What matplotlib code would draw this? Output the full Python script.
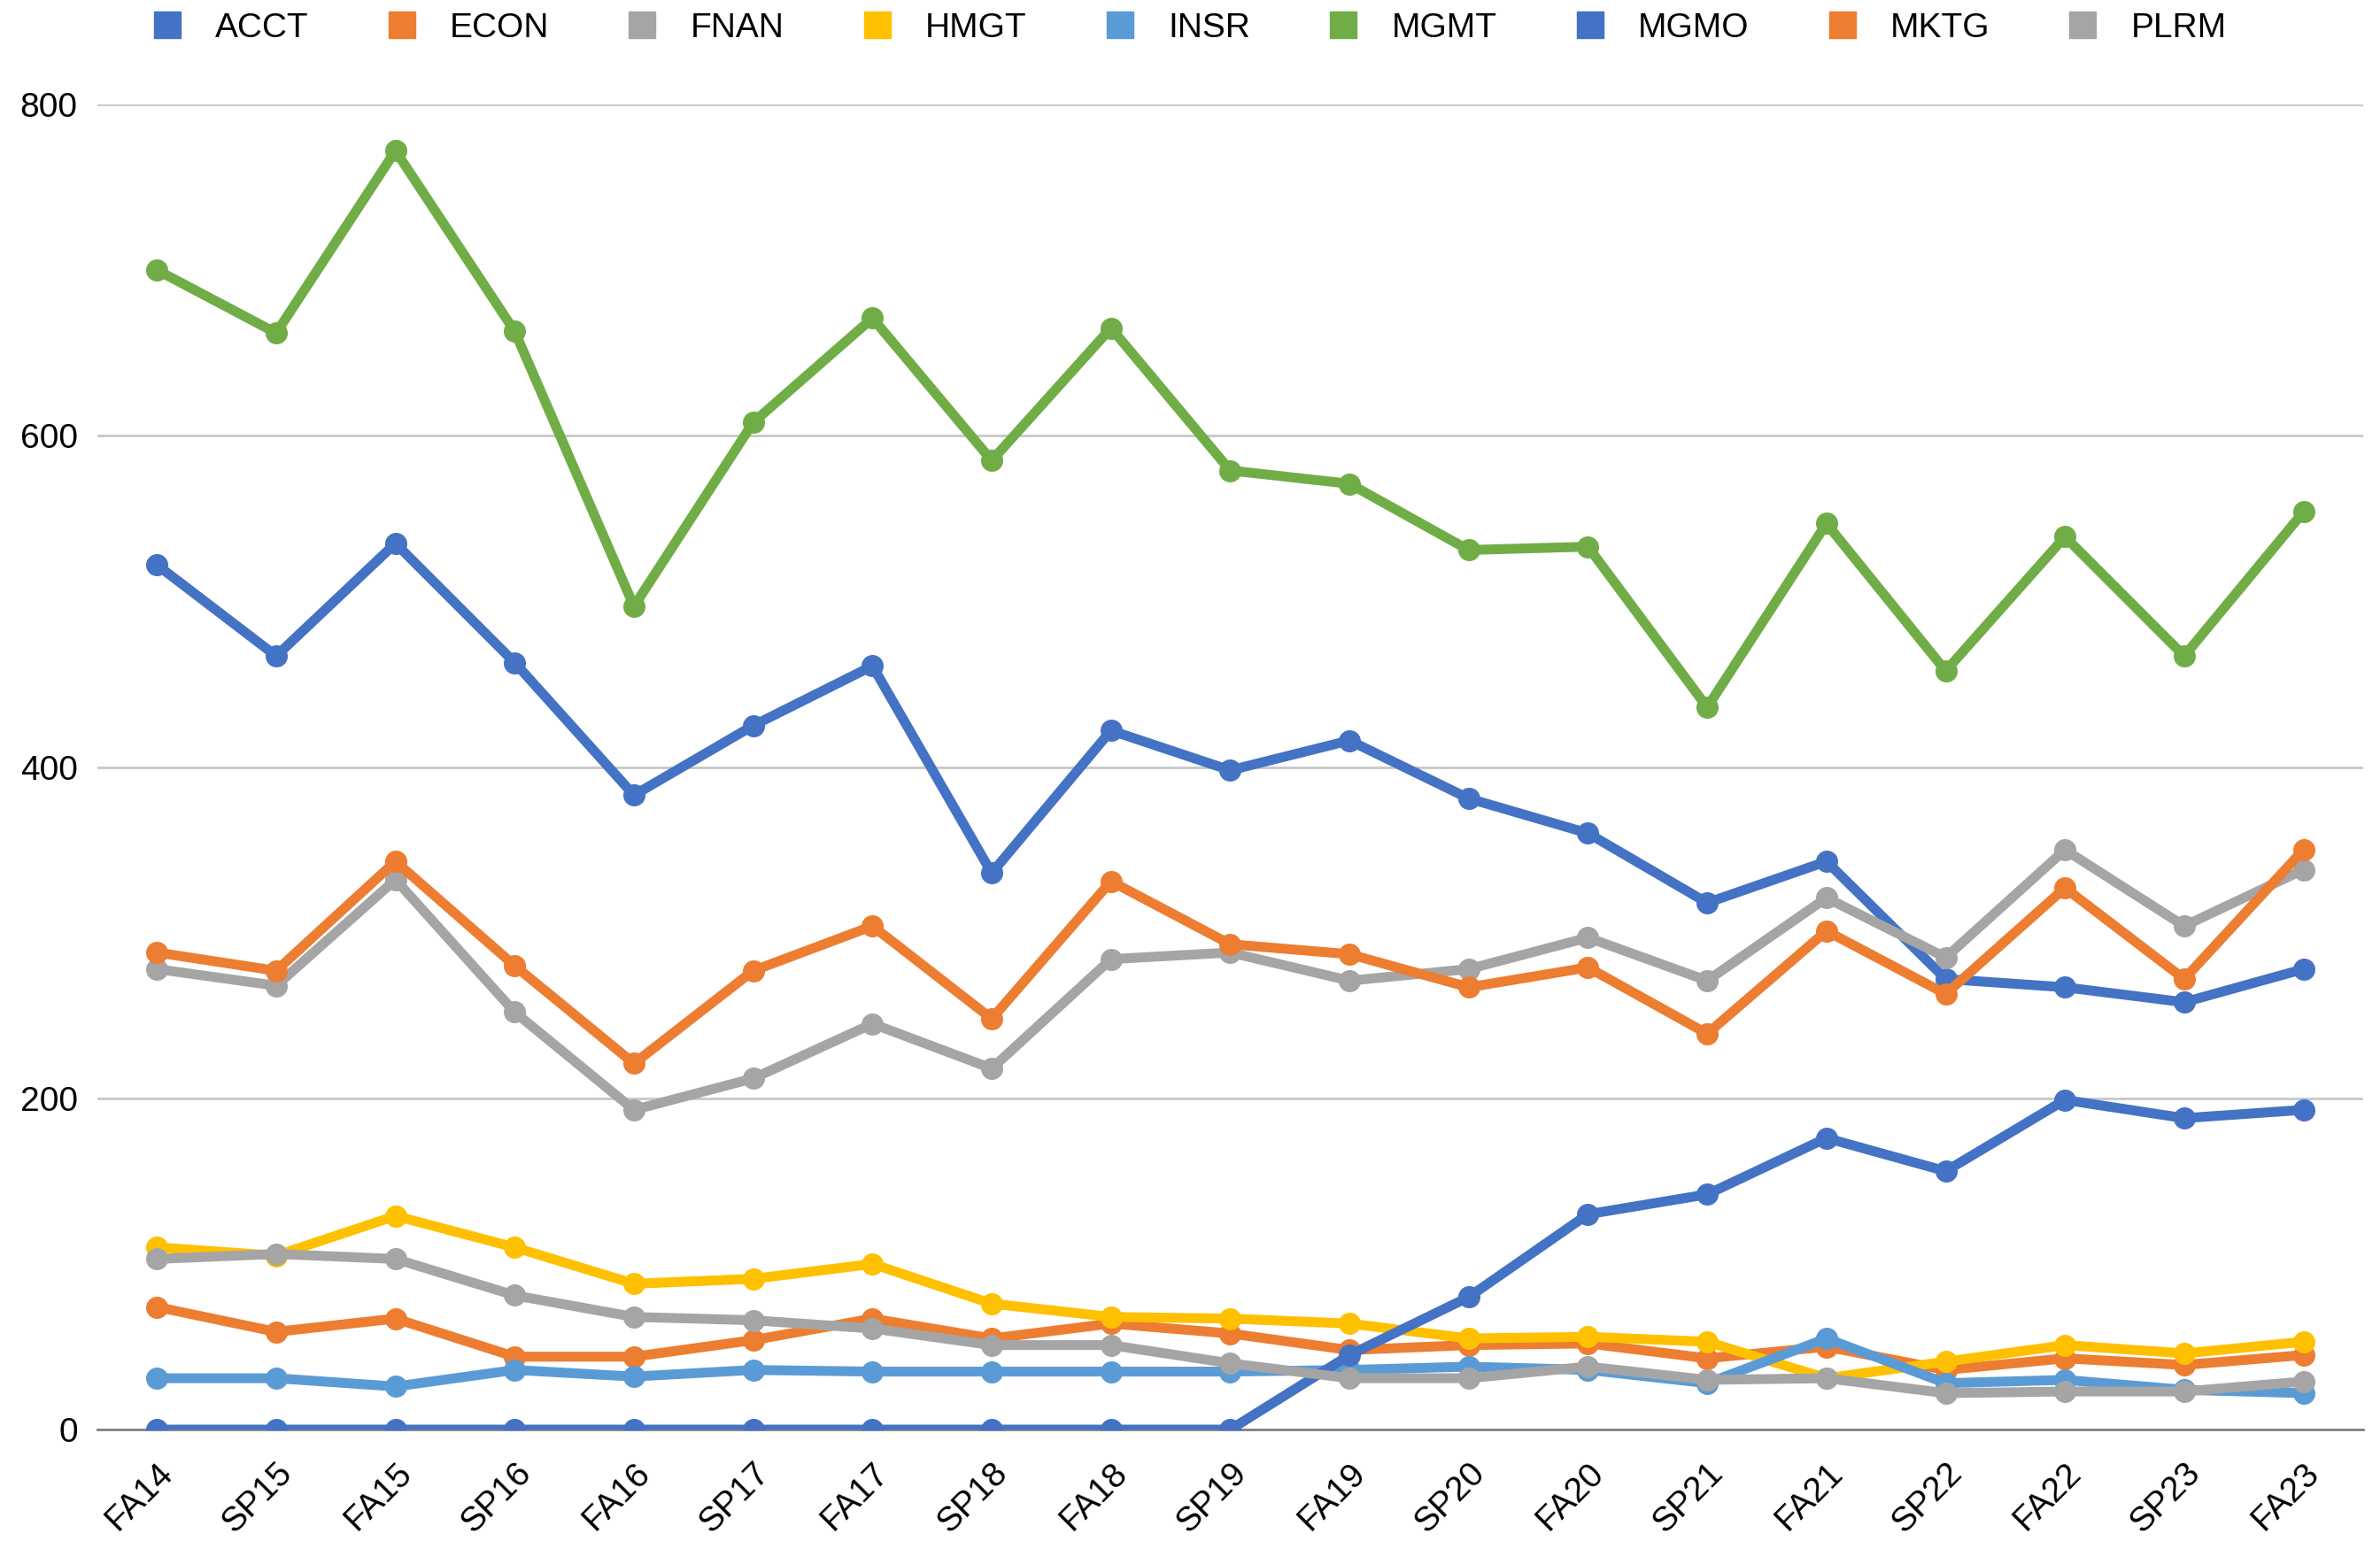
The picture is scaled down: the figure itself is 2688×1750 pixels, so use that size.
import matplotlib.pyplot as plt
from matplotlib.lines import Line2D

plt.rcParams['font.family'] = ['Liberation Sans', 'DejaVu Sans']

terms = ['FA14', 'SP15', 'FA15', 'SP16', 'FA16', 'SP17', 'FA17', 'SP18', 'FA18', 'SP19',
         'FA19', 'SP20', 'FA20', 'SP21', 'FA21', 'SP22', 'FA22', 'SP23', 'FA23']

acct = [522, 467, 535, 463, 383, 425, 461, 336, 422, 398, 416, 381, 360, 318, 343, 272, 267, 258, 278]
econ = [74, 59, 67, 44, 44, 54, 67, 55, 64, 58, 48, 51, 52, 43, 50, 36, 43, 39, 45]
fnan = [278, 268, 332, 252, 193, 212, 245, 218, 284, 288, 271, 278, 297, 271, 321, 285, 350, 304, 338]
hmgt = [110, 105, 129, 110, 88, 91, 100, 76, 68, 67, 64, 55, 56, 53, 31, 41, 51, 46, 53]
insr = [31, 31, 26, 36, 32, 36, 35, 35, 35, 35, 36, 38, 36, 28, 55, 28, 30, 24, 22]
mgmt = [700, 662, 772, 663, 497, 608, 671, 585, 665, 579, 571, 531, 533, 436, 547, 458, 539, 467, 554]
mgmo = [0, 0, 0, 0, 0, 0, 0, 0, 0, 0, 45, 80, 130, 142, 176, 156, 199, 188, 193]
mktg = [288, 277, 343, 280, 221, 277, 304, 248, 331, 293, 287, 267, 279, 239, 301, 263, 327, 272, 350]
plrm = [103, 106, 103, 81, 68, 66, 61, 51, 51, 40, 31, 31, 38, 30, 31, 22, 23, 23, 29]

names = ['ACCT', 'ECON', 'FNAN', 'HMGT', 'INSR', 'MGMT', 'MGMO', 'MKTG', 'PLRM']
series = [acct, econ, fnan, hmgt, insr, mgmt, mgmo, mktg, plrm]
colors = ['#4472C4', '#ED7D31', '#A5A5A5', '#FFC000', '#5B9BD5', '#70AD47', '#4472C4', '#ED7D31', '#A5A5A5']

fig = plt.figure(figsize=(26.88, 17.5), dpi=100)
ax = fig.add_axes([0.0409, 0.0771, 0.9520, 0.8555])

x = list(range(len(terms)))
for vals, c in zip(series, colors):
    ax.plot(x, vals, color=c, linewidth=8, marker='o', markersize=17,
            solid_joinstyle='round', solid_capstyle='round', zorder=3)

ax.set_xlim(-0.5, len(terms) - 0.5)
ax.set_ylim(0, 800)
ax.set_yticks([0, 200, 400, 600, 800])
ax.set_xticks(x)
ax.set_xticklabels(terms, rotation=45, ha='right', rotation_mode='anchor')
ax.tick_params(axis='x', length=0, pad=22, labelsize=28)
ax.tick_params(axis='y', length=0, pad=16, labelsize=28)
ax.grid(axis='y', color='#C8C8C8', linewidth=2)
ax.set_axisbelow(True)
for s in ['top', 'right', 'left']:
    ax.spines[s].set_visible(False)
ax.spines['bottom'].set_color('#808080')
ax.spines['bottom'].set_linewidth(2)
ax.spines['bottom'].set_zorder(2)

handles = [Line2D([], [], linestyle='none', marker='s', markersize=21, color=c) for c in colors]
fig.legend(handles, names, loc='center', bbox_to_anchor=(0.5, 0.982), ncol=9, frameon=False,
           fontsize=28, handlelength=0.8, handletextpad=1.0, columnspacing=2.3)

fig.savefig('out.png', dpi=100)
